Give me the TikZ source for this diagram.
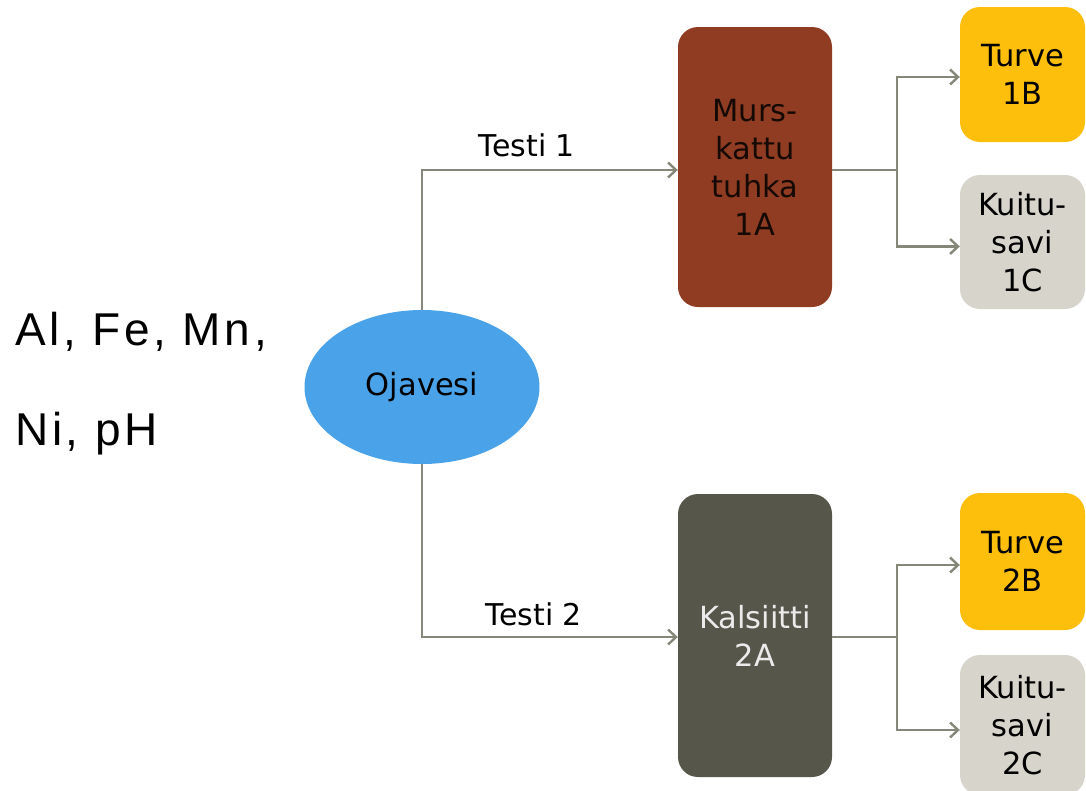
\documentclass[tikz,border=0pt]{standalone}
\usepackage{fontspec}
\setmainfont{DejaVu Sans}
\newfontfamily\labelfont[LetterSpace=8]{Liberation Sans}
\usetikzlibrary{arrows.meta,shapes.geometric}

\definecolor{water}{HTML}{4AA3E8}
\definecolor{ash}{HTML}{8F3C22}
\definecolor{calcite}{HTML}{57564B}
\definecolor{peat}{HTML}{FDBF0B}
\definecolor{clay}{HTML}{D6D4CB}
\definecolor{pipe}{HTML}{858878}

\tikzset{
  conn/.style={draw=pipe, line width=2.4pt},
  flow/.style={conn, -{Straight Barb[length=8pt,width=15pt]}},
  box/.style={rectangle, rounded corners=20pt, inner sep=0pt, align=center,
    font=\fontsize{30.5}{38}\selectfont},
  tag/.style={font=\fontsize{30}{36}\selectfont, inner sep=0pt},
  side/.style={font=\labelfont\fontsize{46}{50}\selectfont, anchor=base west, inner sep=0pt}
}

\begin{document}
\begin{tikzpicture}[x=1pt, y=-1pt]
  \useasboundingbox (0,0) rectangle (1086,790);

  % measured quantities
  \node[side] (q1) at (15,345) {Al, Fe, Mn,};
  \node[side] (q2) at (15,445) {Ni, pH};

  % source water
  \node[ellipse, fill=water, minimum width=235pt, minimum height=154pt, inner sep=0pt,
        font=\fontsize{30.5}{34}\selectfont] (oja) at (422,387) {Ojavesi};

  % first-stage filters
  \node[box, fill=ash, text=black!85!ash, minimum width=154pt, minimum height=280pt] (a1) at (755,167)
    {Murs-\\kattu\\tuhka\\1A};
  \node[box, fill=calcite, text=white!92!black, minimum width=154pt, minimum height=283pt]
    (a2) at (755,635.5) {Kalsiitti\\2A};

  % second-stage filters
  \node[box, fill=peat, minimum width=125pt, minimum height=135pt] (b1) at (1022.5,74.5) {Turve\\1B};
  \node[box, fill=clay, minimum width=125pt, minimum height=134pt] (c1) at (1022.5,242) {Kuitu-\\savi\\1C};
  \node[box, fill=peat, minimum width=125pt, minimum height=137pt] (b2) at (1022.5,561.5) {Turve\\2B};
  \node[box, fill=clay, minimum width=125pt, minimum height=140pt] (c2) at (1022.5,725) {Kuitu-\\savi\\2C};

  % tests
  \draw[flow] (oja.north) |- ([yshift=-3pt]a1.west);
  \draw[flow] (oja.south) |- ([yshift=-1.5pt]a2.west);
  \node[tag] (t1) at (527,145) {Testi 1};
  \node[tag] (t2) at (534,614) {Testi 2};

  % branches
  \coordinate (j1) at (897,170);
  \coordinate (j2) at (897,637);
  \draw[conn] ([yshift=-3pt]a1.east) -- (j1);
  \draw[flow] (j1) |- ([yshift=-2.5pt]b1.west);
  \draw[flow] (j1) |- ([yshift=-4.5pt]c1.west);
  \draw[conn] ([yshift=-1.5pt]a2.east) -- (j2);
  \draw[flow] (j2) |- ([yshift=-3.5pt]b2.west);
  \draw[flow] (j2) |- ([yshift=-5pt]c2.west);
\end{tikzpicture}
\end{document}
